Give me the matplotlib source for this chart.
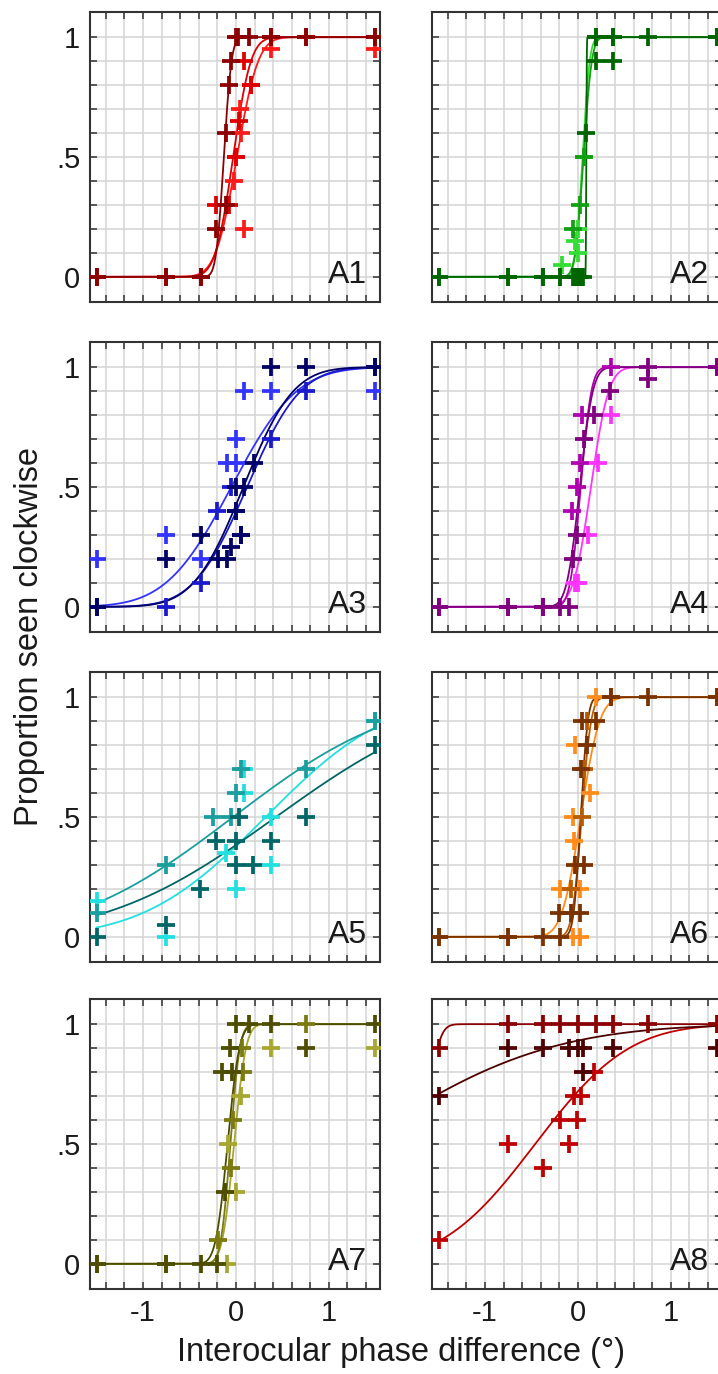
import math
import numpy as np
import matplotlib
matplotlib.use("Agg")
import matplotlib.pyplot as plt

plt.rcParams['font.family'] = ['Liberation Sans', 'DejaVu Sans']

# Per panel: three observers/conditions (dark, mid, bright)
# x = interocular phase difference (deg), y = proportion seen clockwise
# fits are (mean, sd) of the cumulative Gaussian

A1_x = [[-1.5, -0.75, -0.375, -0.21, -0.11, -0.11, -0.07, -0.05, 0.0, 0.02, 0.14, 0.375, 0.75, 1.5],
        [-1.5, -0.75, -0.375, -0.21, -0.07, 0.0, 0.03, 0.09, 0.16, 0.375, 0.75, 1.5],
        [-1.5, -0.75, -0.375, 0.09, -0.02, 0.0, 0.04, 0.05, 0.16, 0.375, 1.5]]
A1_y = [[0, 0, 0, 0.2, 0.3, 0.6, 0.8, 0.9, 1, 1, 1, 1, 1, 1],
        [0, 0, 0, 0.3, 0.3, 0.5, 0.65, 0.9, 0.8, 1, 1, 1],
        [0, 0, 0, 0.2, 0.4, 0.5, 0.7, 0.6, 0.8, 0.95, 0.95]]
A1_fit = [(-0.13, 0.065), (-0.03, 0.15), (0.01, 0.18)]
A1_colors = ['#8b0000', '#dd0000', '#ff1a1a']

A2_x = [[-1.5, -0.75, -0.375, -0.19, -0.05, -0.02, 0.0, 0.02, 0.05, 0.09, 0.19, 0.375, 0.19, 0.375, 0.75, 1.5],
        [-1.5, -0.75, -0.375, -0.05, -0.03, 0.02, 0.06, 0.19, 0.375, 1.5],
        [-1.5, -0.75, -0.19, -0.17, -0.03, 0.0, 0.0, 0.06, 0.19, 1.5]]
A2_y = [[0, 0, 0, 0, 0, 0, 0, 0, 0, 0.6, 0.9, 0.9, 1, 1, 1, 1],
        [0, 0, 0, 0.2, 0.0, 0.3, 0.5, 1, 1, 1],
        [0, 0, 0, 0.05, 0.15, 0.1, 0.2, 0.5, 1, 1]]
A2_fit = [(0.09, 0.004), (0.06, 0.07), (0.05, 0.06)]
A2_colors = ['#006400', '#14a014', '#33dd33']

A3_x = [[-1.5, -0.75, -0.375, -0.19, -0.1, -0.05, 0.0, 0.0, 0.05, 0.09, 0.19, 0.375, 0.75, 1.5],
        [-1.5, -0.75, -0.375, -0.2, -0.05, 0.0, 0.05, 0.375, 0.75, 1.5],
        [-1.5, -0.75, -0.375, -0.1, 0.0, 0.0, 0.09, 0.375, 1.5]]
A3_y = [[0, 0.2, 0.3, 0.2, 0.2, 0.25, 0.4, 0.5, 0.3, 0.5, 0.6, 1, 1, 1],
        [0, 0, 0.1, 0.4, 0.5, 0.4, 0.3, 0.7, 0.9, 1],
        [0.2, 0.3, 0.2, 0.6, 0.7, 0.6, 0.9, 0.9, 0.9]]
A3_fit = [(0.08, 0.42), (0.12, 0.45), (-0.05, 0.55)]
A3_colors = ['#000066', '#1a1acc', '#3333ff']

A4_x = [[-1.5, -0.75, -0.375, -0.19, -0.1, -0.05, -0.01, 0.06, 0.17, 0.35, 0.75, 0.75, 1.5],
        [-1.5, -0.75, -0.375, -0.06, -0.01, 0.025, 0.04, 0.36, 1.5],
        [-0.03, 0.0, 0.11, 0.22, 0.36]]
A4_y = [[0, 0, 0, 0, 0, 0.2, 0.3, 0.7, 0.8, 0.9, 0.95, 1, 1],
        [0, 0, 0, 0.4, 0.5, 0.6, 0.8, 1, 1],
        [0.1, 0.1, 0.3, 0.6, 0.8]]
A4_fit = [(0.02, 0.11), (0.03, 0.09), (0.14, 0.15)]
A4_colors = ['#800080', '#b000b0', '#ff33ff']

A5_x = [[-1.5, -0.75, -0.39, -0.21, 0.0, 0.0, 0.03, 0.18, 0.375, 0.75, 1.5],
        [-1.5, -0.75, -0.25, -0.05, 0.0, 0.05, 0.75, 1.5],
        [-1.5, -0.75, -0.11, 0.0, 0.09, 0.09, 0.375, 0.375, 1.5]]
A5_y = [[0, 0.05, 0.2, 0.4, 0.4, 0.3, 0.5, 0.3, 0.4, 0.5, 0.8],
        [0.1, 0.3, 0.5, 0.5, 0.6, 0.7, 0.7, 0.9],
        [0.15, 0.0, 0.35, 0.2, 0.6, 0.7, 0.3, 0.5, 0.9]]
A5_fit = [(0.43, 1.44), (-0.03, 1.36), (0.32, 1.03)]
A5_colors = ['#006666', '#1a9e9e', '#22e0e0']

A6_x = [[-1.5, -0.75, -0.375, -0.19, -0.2, -0.07, 0.025, -0.03, 0.07, 0.035, 0.1, 0.04, 0.19, 0.36, 0.75, 1.5],
        [-1.5, -0.75, -0.07, 0.04, 0.07, 0.1, 0.36, 1.5],
        [-0.05, 0.02, -0.19, 0.025, -0.04, -0.05, 0.13, -0.03, 0.19]]
A6_y = [[0, 0, 0, 0, 0.1, 0.1, 0.1, 0.3, 0.3, 0.7, 0.8, 0.9, 0.9, 1, 1, 1],
        [0, 0, 0.2, 0.5, 0.7, 0.9, 1, 1],
        [0, 0, 0.2, 0.2, 0.4, 0.5, 0.6, 0.8, 1]]
A6_fit = [(0.03, 0.06), (0.04, 0.08), (0.03, 0.16)]
A6_colors = ['#7a3300', '#b85c00', '#ff8c1a']

A7_x = [[-1.5, -0.75, -0.375, -0.2, -0.12, -0.15, -0.04, -0.06, 0.0, 0.14, 0.375, 0.75, 1.5],
        [-1.5, -0.75, -0.19, -0.05, -0.03, 0.08, 0.06, 0.75],
        [-0.1, 0.0, -0.09, 0.05, 0.375, 1.5]]
A7_y = [[0, 0, 0, 0, 0.3, 0.8, 0.8, 0.9, 1, 1, 1, 0.9, 1],
        [0, 0, 0.1, 0.4, 0.6, 0.8, 0.9, 1],
        [0, 0.3, 0.5, 0.7, 0.9, 0.9]]
A7_fit = [(-0.09, 0.1), (-0.06, 0.08), (-0.02, 0.1)]
A7_colors = ['#4d4d00', '#7a7a10', '#a6a630']

A8_x = [[-1.5, -0.75, -0.375, -0.1, 0.0, 0.05, 0.05, 0.375, 1.5],
        [-1.5, -0.75, -0.375, -0.19, 0.0, 0.19, 0.375, 0.75, 1.5],
        [-1.5, -0.75, -0.375, -0.19, -0.1, -0.01, -0.04, 0.03, 0.17]]
A8_y = [[0.7, 0.9, 0.9, 0.9, 0.9, 0.9, 0.8, 0.9, 0.9],
        [0.9, 1, 1, 1, 1, 1, 1, 1, 1],
        [0.1, 0.5, 0.4, 0.6, 0.5, 0.6, 0.7, 0.7, 0.8]]
A8_fit = [(-2.38, 1.6), (-1.65, 0.11), (-0.46, 0.79)]
A8_colors = ['#4d0000', '#8b0000', '#c00000']

panels = [('A1', A1_x, A1_y, A1_fit, A1_colors), ('A2', A2_x, A2_y, A2_fit, A2_colors),
          ('A3', A3_x, A3_y, A3_fit, A3_colors), ('A4', A4_x, A4_y, A4_fit, A4_colors),
          ('A5', A5_x, A5_y, A5_fit, A5_colors), ('A6', A6_x, A6_y, A6_fit, A6_colors),
          ('A7', A7_x, A7_y, A7_fit, A7_colors), ('A8', A8_x, A8_y, A8_fit, A8_colors)]

TEXT = '#1a1a1a'


def cum_gauss(x, mu, sd):
    return np.array([0.5 * (1 + math.erf((v - mu) / (sd * math.sqrt(2)))) for v in x])


fig = plt.figure(figsize=(7.18, 13.74), dpi=100)

W, H = 718.0, 1374.0
col_left = [90, 432]
row_top = [12, 342, 672, 999]
ax_w, ax_h = 290, 290

xs = np.linspace(-1.5, 1.5, 3000)

for i, (name, px, py, fits, colors) in enumerate(panels):
    r, c = divmod(i, 2)
    ax = fig.add_axes([col_left[c] / W, 1 - (row_top[r] + ax_h) / H, ax_w / W, ax_h / H])

    # bright first so the dark series ends up on top
    for k in (2, 1, 0):
        mu, sd = fits[k]
        ax.plot(xs, cum_gauss(xs, mu, sd), color=colors[k], lw=1.3, zorder=3.05 - k * 0.01)
        ax.plot(px[k], py[k], linestyle='none', marker='+', markersize=12.5,
                markeredgewidth=2.7, color=colors[k], zorder=4.05 - k * 0.01)

    ax.set_xlim(-1.57, 1.55)
    ax.set_ylim(-0.105, 1.105)

    xt = np.round(np.arange(-1.4, 1.41, 0.2), 2)
    yt = np.round(np.arange(0, 1.01, 0.1), 2)
    ax.set_xticks(xt)
    ax.set_yticks(yt)
    if r == 3:
        ax.set_xticklabels(['-1' if abs(v + 1) < 1e-6 else '0' if abs(v) < 1e-6
                            else '1' if abs(v - 1) < 1e-6 else '' for v in xt])
    else:
        ax.set_xticklabels([])
    if c == 0:
        ax.set_yticklabels(['0' if abs(v) < 1e-6 else '.5' if abs(v - 0.5) < 1e-6
                            else '1' if abs(v - 1) < 1e-6 else '' for v in yt])
    else:
        ax.set_yticklabels([])

    ax.grid(True, color='#d4d4d4', lw=1.1, zorder=0)
    ax.set_axisbelow(True)
    ax.tick_params(direction='in', top=True, right=True, length=5, width=1.1,
                   color='#333333', labelsize=21, labelcolor=TEXT, pad=7)
    for sp in ax.spines.values():
        sp.set_color('#333333')
        sp.set_linewidth(1.5)

    ax.text(0.955, 0.04, name, transform=ax.transAxes, ha='right', va='bottom',
            fontsize=23, color=TEXT, zorder=5)

fig.text(30 / W, 1 - 637 / H, 'Proportion seen clockwise', rotation=90,
         ha='center', va='center', fontsize=23.5, color=TEXT)
fig.text(401 / W, 1 - 1352 / H, 'Interocular phase difference (\u00b0)',
         ha='center', va='center', fontsize=23.5, color=TEXT)

fig.savefig('out.png', dpi=100)
